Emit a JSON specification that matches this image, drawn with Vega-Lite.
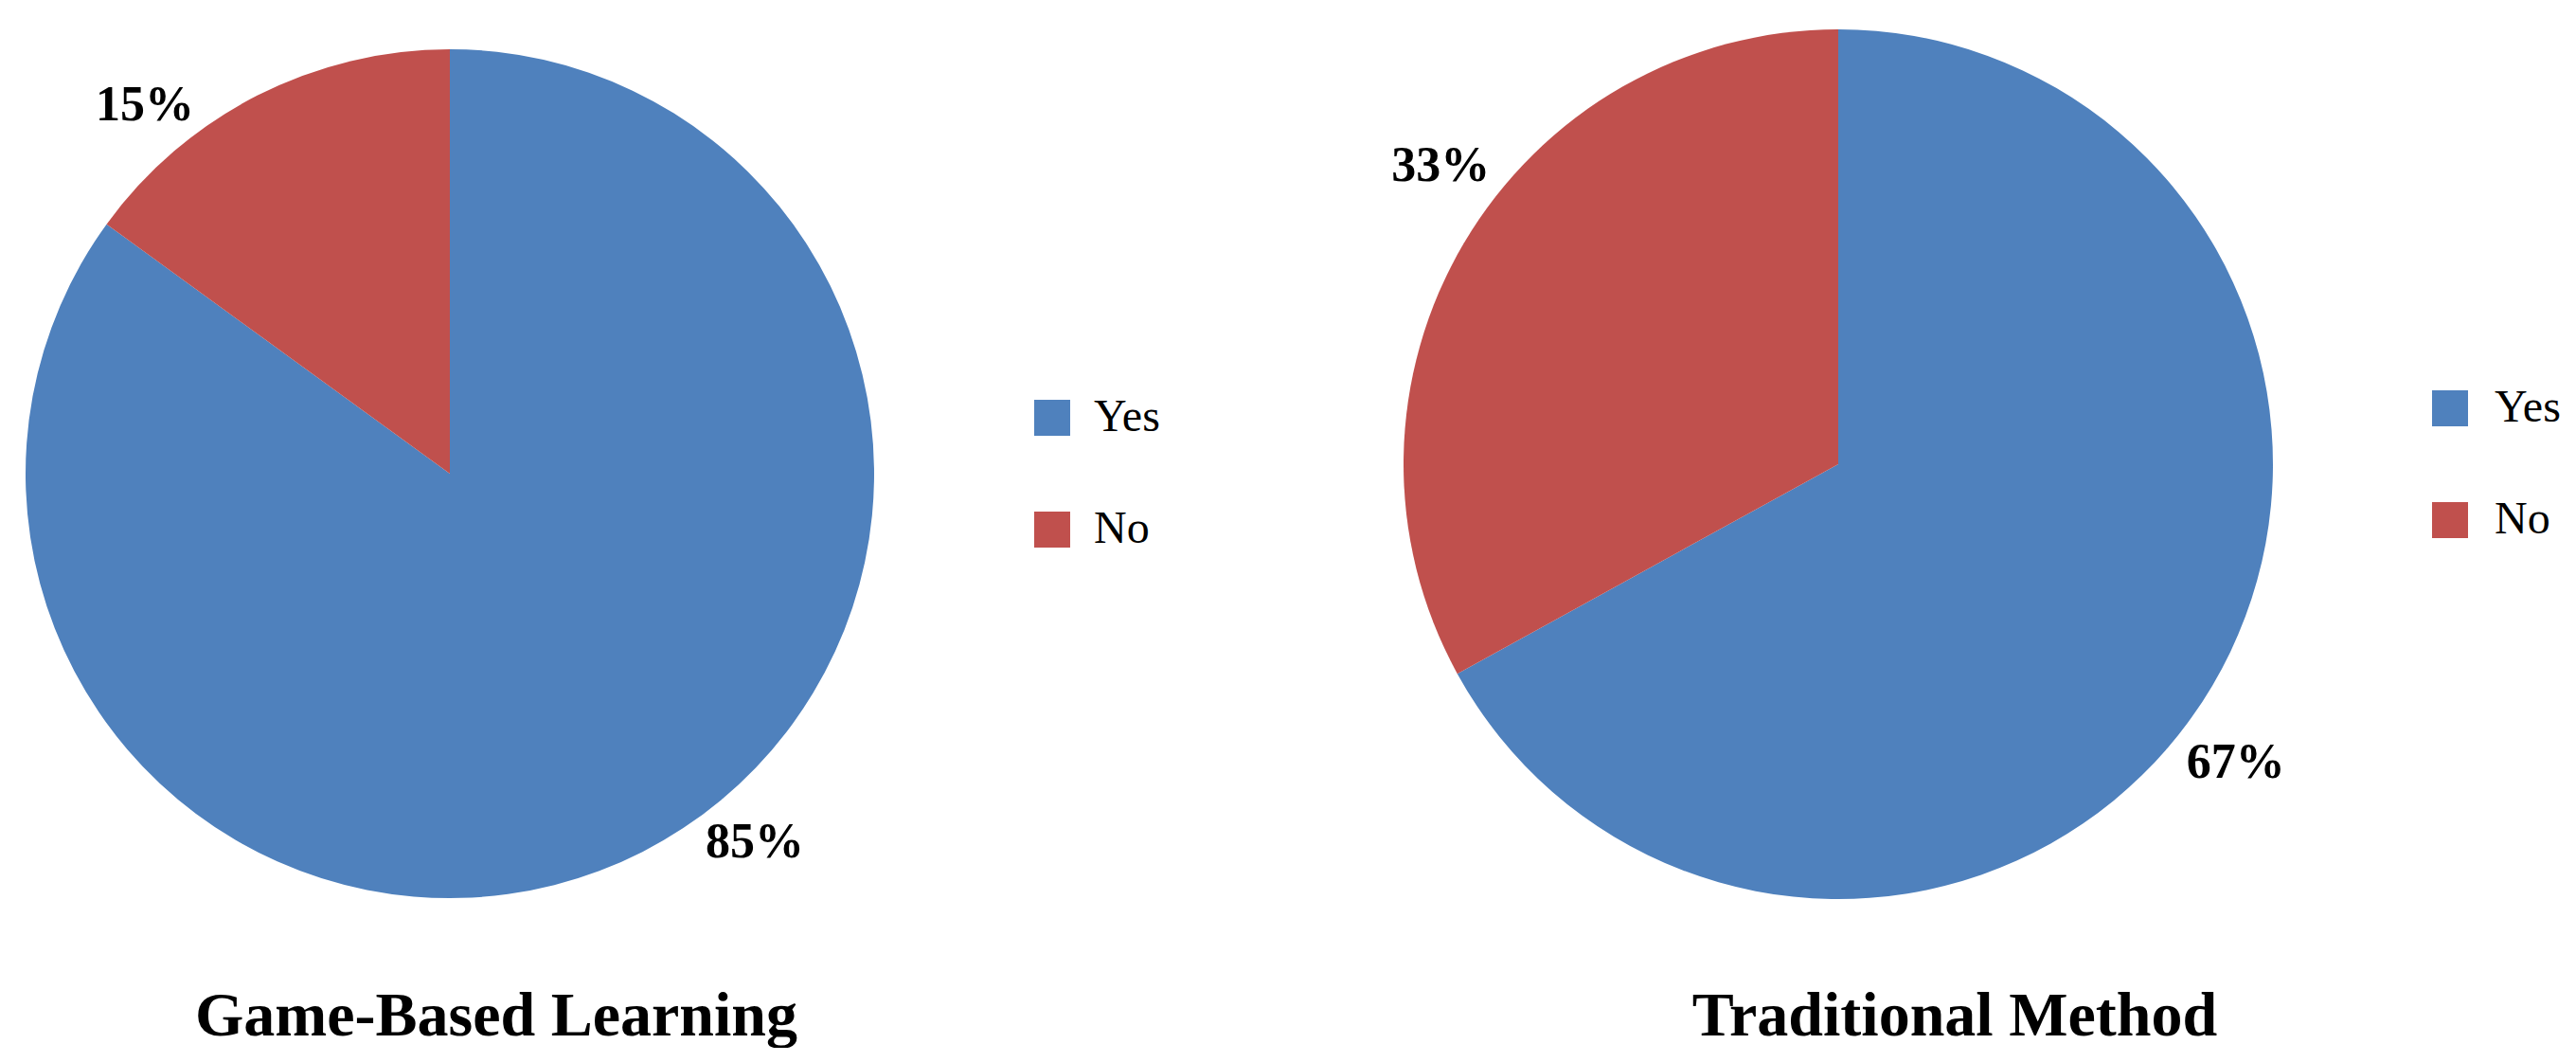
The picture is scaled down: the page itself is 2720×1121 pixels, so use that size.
{
  "$schema": "https://vega.github.io/schema/vega-lite/v6.json",
  "padding": 0,
  "background": "white",
  "datasets": {
    "gbl": [
      {"Method": "Game-Based Learning", "Answer": "Yes", "Share": 0.85},
      {"Method": "Game-Based Learning", "Answer": "No", "Share": 0.15}
    ],
    "trad": [
      {"Method": "Traditional Method", "Answer": "Yes", "Share": 0.67},
      {"Method": "Traditional Method", "Answer": "No", "Share": 0.33}
    ]
  },
  "bounds": "flush",
  "spacing": 516,
  "resolve": {"legend": {"color": "independent"}, "scale": {"color": "independent", "theta": "independent"}},
  "hconcat": [
    {
      "width": 950,
      "height": 1000,
      "data": {"name": "gbl"},
      "title": {"text": "Game-Based Learning", "orient": "bottom", "anchor": "middle", "dx": 49, "offset": 93, "baseline": "alphabetic", "font": "Liberation Serif", "fontSize": 66, "fontWeight": "bold", "color": "black"},
      "encoding": {
        "theta": {"field": "Share", "type": "quantitative", "stack": true},
        "order": {"field": "Answer", "sort": "descending"},
        "color": {
          "field": "Answer", "type": "nominal",
          "scale": {"domain": ["Yes", "No"], "range": ["#4F81BD", "#C0504D"]},
          "legend": {"title": null, "orient": "none", "legendX": 1087, "legendY": 417, "padding": 0, "symbolType": "square", "symbolSize": 1444, "symbolStrokeWidth": 0, "labelFont": "Liberation Serif", "labelFontSize": 48, "labelColor": "black", "labelOffset": 20, "rowPadding": 70}
        }
      },
      "layer": [
        {"mark": {"type": "arc", "outerRadius": 448}},
        {"mark": {"type": "text", "radius": 505, "thetaOffset": -0.22, "font": "Liberation Serif", "fontSize": 52, "fontWeight": "bold"},
         "encoding": {"text": {"field": "Share", "type": "quantitative", "format": ".0%"}, "color": {"value": "black"}}}
      ]
    },
    {
      "width": 950,
      "height": 980,
      "data": {"name": "trad"},
      "title": {"text": "Traditional Method", "orient": "bottom", "anchor": "middle", "dx": 123, "offset": 113, "baseline": "alphabetic", "font": "Liberation Serif", "fontSize": 66, "fontWeight": "bold", "color": "black"},
      "encoding": {
        "theta": {"field": "Share", "type": "quantitative", "stack": true},
        "order": {"field": "Answer", "sort": "descending"},
        "color": {
          "field": "Answer", "type": "nominal",
          "scale": {"domain": ["Yes", "No"], "range": ["#4F81BD", "#C0504D"]},
          "legend": {"title": null, "orient": "none", "legendX": 1097, "legendY": 407, "padding": 0, "symbolType": "square", "symbolSize": 1444, "symbolStrokeWidth": 0, "labelFont": "Liberation Serif", "labelFontSize": 48, "labelColor": "black", "labelOffset": 23, "rowPadding": 70}
        }
      },
      "layer": [
        {"mark": {"type": "arc", "outerRadius": 459}},
        {"mark": {"type": "text", "radius": 525, "thetaOffset": 0.11, "font": "Liberation Serif", "fontSize": 52, "fontWeight": "bold"},
         "encoding": {"text": {"field": "Share", "type": "quantitative", "format": ".0%"}, "color": {"value": "black"}}}
      ]
    }
  ],
  "config": {"view": {"stroke": null}}
}
